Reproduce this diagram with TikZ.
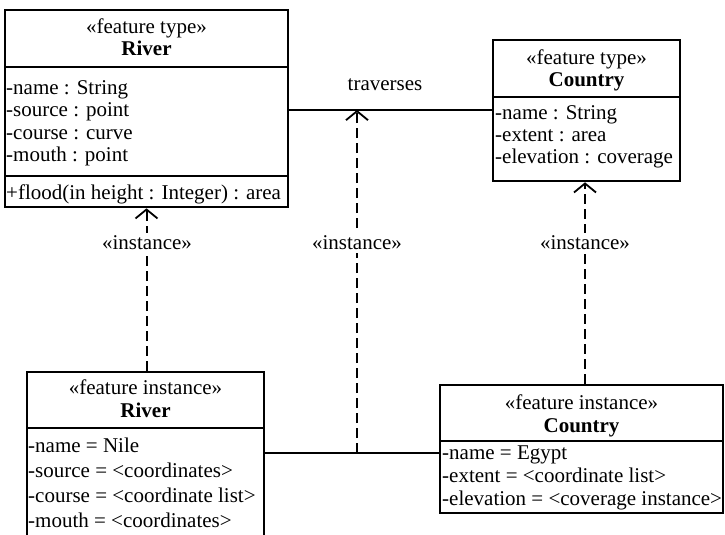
\documentclass[tikz,border=0pt]{standalone}
\usepackage{fontspec}
\setmainfont{Liberation Serif}
\usetikzlibrary{arrows.meta,fit}
\begin{document}
\begin{tikzpicture}[x=1pt,y=-1pt,
  font=\fontsize{21}{24}\selectfont,
  classbox/.style={draw, line width=2.6pt, inner sep=0pt},
  divider/.style={line width=2.2pt},
  row/.style={anchor=mid west, inner sep=0pt},
  head/.style={anchor=mid, inner sep=0pt},
  title/.style={anchor=mid, inner sep=0pt, font=\fontsize{21}{24}\selectfont\bfseries},
  assoc/.style={line width=1.8pt},
  instof/.style={line width=2pt, dash pattern=on 10pt off 5pt,
    -{Straight Barb[length=9pt,width=22pt,line width=1.8pt]}},
  stereo/.style={fill=white, inner sep=3pt}
]
\fill[white] (0,0) rectangle (725,535);
\useasboundingbox (0,0) rectangle (725,535);
\clip (0,0) rectangle (725,535);

% feature type: River
\node[classbox, fit={(5,10)(288,207)}] (rt) {};
\draw[divider] (5,67) -- (288,67);
\draw[divider] (5,176) -- (288,176);
\node[head]  (rtS) at (146.5,31) {«feature type»};
\node[title] (rtN) at (146.5,53) {River};
\node[row] (rt1) at (6,92)  {-name : String};
\node[row] (rt2) at (6,114) {-source : point};
\node[row] (rt3) at (6,137) {-course : curve};
\node[row] (rt4) at (6,159) {-mouth : point};
\node[row] (rt5) at (6,197) {+flood(in height : Integer) : area};

% feature type: Country
\node[classbox, fit={(493,40)(680,181)}] (ct) {};
\draw[divider] (493,97) -- (680,97);
\node[head]  (ctS) at (586.5,62) {«feature type»};
\node[title] (ctN) at (586.5,84) {Country};
\node[row] (ct1) at (495,117) {-name : String};
\node[row] (ct2) at (495,139) {-extent : area};
\node[row] (ct3) at (495,161) {-elevation : coverage};

% feature instance: River
\node[classbox, fit={(27,372)(264,560)}] (ri) {};
\draw[divider] (27,428) -- (264,428);
\node[head]  (riS) at (145.5,392) {«feature instance»};
\node[title] (riN) at (145.5,415) {River};
\node[row] (ri1) at (28,450) {-name = Nile};
\node[row] (ri2) at (28,475) {-source = <coordinates>};
\node[row] (ri3) at (28,500) {-course = <coordinate list>};
\node[row] (ri4) at (28,525) {-mouth = <coordinates>};

% feature instance: Country
\node[classbox, fit={(440,385)(723,513)}] (ci) {};
\draw[divider] (440,441) -- (723,441);
\node[head]  (ciS) at (581.5,407) {«feature instance»};
\node[title] (ciN) at (581.5,430) {Country};
\node[row] (ci1) at (442,457) {-name = Egypt};
\node[row] (ci2) at (442,480) {-extent = <coordinate list>};
\node[row] (ci3) at (442,503) {-elevation = <coverage instance>};

% associations
\coordinate (tv) at (357,110);
\coordinate (lk) at (357,453);
\draw[assoc] (rt.east |- tv) -- (ct.west |- tv);
\draw[assoc] (ri.east |- lk) -- (ci.west |- lk);
\node[inner sep=0pt] (trav) at (385,85) {traverses};

% instance-of dependencies
\draw[instof] (ri.north -| rtS) -- (rt.south -| rtS);
\draw[instof] (lk) -- (tv);
\draw[instof] (ci.north -| 585,0) -- (ct.south -| 585,0);
\node[stereo] (d1) at (147,243) {«instance»};
\node[stereo] (d2) at (357,243) {«instance»};
\node[stereo] (d3) at (585,243) {«instance»};
\end{tikzpicture}
\end{document}
